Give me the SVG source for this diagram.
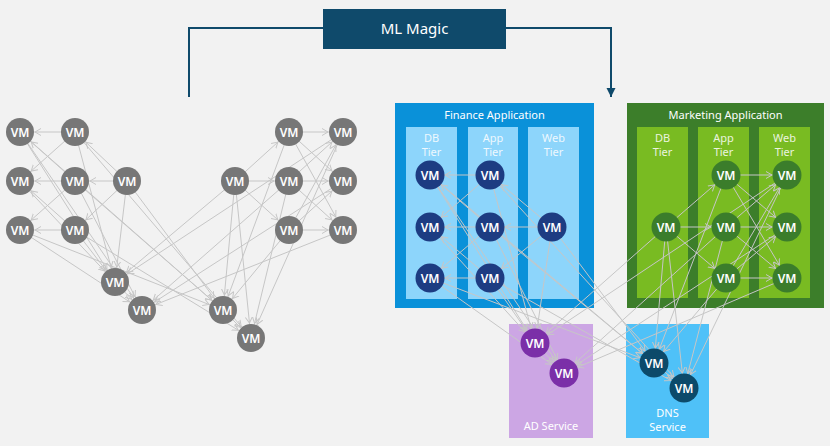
<svg xmlns="http://www.w3.org/2000/svg" width="830" height="446" viewBox="0 0 830 446">
<style>
text{font-family:"Noto Sans","Liberation Sans",sans-serif;text-anchor:middle}
.vm{fill:#fff;font-size:12px;font-weight:600}
.e line{stroke:#c6c6c6;stroke-width:1;fill:none;marker-end:url(#a)}
.g circle{fill:#777}
.fn circle{fill:#1d3c82}
.mk circle{fill:#3b7d2b}
.ad circle{fill:#7b2fa8}
.dn circle{fill:#0c4a6a}
.lbl{fill:#fff;font-size:11px}
.tier{fill:#fff;font-size:11px;opacity:.85}
</style>
<defs>
<marker id="a" markerUnits="userSpaceOnUse" markerWidth="22" markerHeight="10" viewBox="0 -5 22 10" refX="21" refY="0" orient="auto">
<path d="M0,-3.5 L6,0 L0,3.5" fill="none" stroke="#c6c6c6" stroke-width="1"/>
</marker>
<marker id="b" markerUnits="userSpaceOnUse" markerWidth="10" markerHeight="10" viewBox="0 -5 10 10" refX="9" refY="0" orient="auto">
<path d="M0,-4.5 L9,0 L0,4.5 Z" fill="#0f4a6b"/>
</marker>
</defs>
<rect width="830" height="446" fill="#f2f2f2"/>

<g id="ml-magic">
<rect x="323" y="9" width="183" height="40" fill="#0f4a6b"/>
<text x="414.5" y="34" fill="#fff" style="font-size:15px">ML Magic</text>
</g>

<g id="finance-app">
<rect x="395" y="103" width="199" height="205" fill="#0a91d9"/>
<text class="lbl" x="494.5" y="119">Finance Application</text>
<rect x="406" y="127" width="51" height="172" fill="#8dd5fb"/>
<rect x="468" y="127" width="50" height="172" fill="#8dd5fb"/>
<rect x="528" y="127" width="51" height="172" fill="#8dd5fb"/>
<text class="tier" x="431.5" y="142">DB</text><text class="tier" x="431.5" y="156">Tier</text>
<text class="tier" x="493" y="142">App</text><text class="tier" x="493" y="156">Tier</text>
<text class="tier" x="553.5" y="142">Web</text><text class="tier" x="553.5" y="156">Tier</text>
</g>
<g id="marketing-app">
<rect x="627" y="103" width="197" height="205" fill="#3c7e2a"/>
<text class="lbl" x="725.5" y="119">Marketing Application</text>
<rect x="637" y="127" width="51" height="171" fill="#79bb22"/>
<rect x="698" y="127" width="51" height="171" fill="#79bb22"/>
<rect x="759" y="127" width="51" height="171" fill="#79bb22"/>
<text class="tier" x="662.5" y="142">DB</text><text class="tier" x="662.5" y="156">Tier</text>
<text class="tier" x="723.5" y="142">App</text><text class="tier" x="723.5" y="156">Tier</text>
<text class="tier" x="784.5" y="142">Web</text><text class="tier" x="784.5" y="156">Tier</text>
</g>
<g id="ad-service">
<rect x="509" y="324" width="84" height="114" fill="#cca6e4"/>
<text class="lbl" x="551" y="430">AD Service</text>
</g>
<g id="dns-service">
<rect x="626" y="324" width="83" height="114" fill="#4fc1f8"/>
<text class="lbl" x="667.5" y="417">DNS</text>
<text class="lbl" x="667.5" y="431">Service</text>
</g>

<g id="connectors">
<g id="ml-flow" fill="none" stroke="#0f4a6b" stroke-width="2">
<polyline points="189,97 189,28 323,28"/>
<polyline points="506,28 611,28 611,97" marker-end="url(#b)"/>
</g>
<g class="e" id="grey-edges">
<line x1="75" y1="132" x2="20" y2="132"/>
<line x1="75" y1="132" x2="20" y2="181"/>
<line x1="75" y1="181" x2="20" y2="132"/>
<line x1="75" y1="181" x2="20" y2="181"/>
<line x1="75" y1="181" x2="20" y2="230"/>
<line x1="75" y1="230" x2="20" y2="181"/>
<line x1="75" y1="230" x2="20" y2="230"/>
<line x1="127" y1="181" x2="75" y2="132"/>
<line x1="127" y1="181" x2="75" y2="181"/>
<line x1="127" y1="181" x2="75" y2="230"/>
<line x1="235" y1="181" x2="289" y2="132"/>
<line x1="235" y1="181" x2="289" y2="181"/>
<line x1="235" y1="181" x2="289" y2="230"/>
<line x1="289" y1="132" x2="343" y2="132"/>
<line x1="289" y1="132" x2="343" y2="181"/>
<line x1="289" y1="132" x2="343" y2="230"/>
<line x1="289" y1="181" x2="343" y2="132"/>
<line x1="289" y1="181" x2="343" y2="181"/>
<line x1="289" y1="181" x2="343" y2="230"/>
<line x1="289" y1="230" x2="343" y2="132"/>
<line x1="289" y1="230" x2="343" y2="181"/>
<line x1="289" y1="230" x2="343" y2="230"/>
<line x1="115" y1="282" x2="142" y2="310"/>
<line x1="223" y1="310" x2="251" y2="338"/>
<line x1="20" y1="132" x2="115" y2="282"/>
<line x1="20" y1="132" x2="142" y2="310"/>
<line x1="20" y1="230" x2="142" y2="310"/>
<line x1="20" y1="181" x2="115" y2="282"/>
<line x1="75" y1="132" x2="115" y2="282"/>
<line x1="75" y1="181" x2="142" y2="310"/>
<line x1="75" y1="230" x2="115" y2="282"/>
<line x1="127" y1="181" x2="115" y2="282"/>
<line x1="127" y1="181" x2="223" y2="310"/>
<line x1="75" y1="132" x2="251" y2="338"/>
<line x1="75" y1="181" x2="223" y2="310"/>
<line x1="20" y1="230" x2="223" y2="310"/>
<line x1="235" y1="181" x2="223" y2="310"/>
<line x1="235" y1="181" x2="251" y2="338"/>
<line x1="289" y1="132" x2="223" y2="310"/>
<line x1="289" y1="181" x2="251" y2="338"/>
<line x1="289" y1="230" x2="223" y2="310"/>
<line x1="343" y1="132" x2="115" y2="282"/>
<line x1="343" y1="181" x2="142" y2="310"/>
<line x1="343" y1="230" x2="142" y2="310"/>
<line x1="235" y1="181" x2="115" y2="282"/>
<line x1="289" y1="181" x2="142" y2="310"/>
<line x1="343" y1="132" x2="251" y2="338"/>
<line x1="75" y1="230" x2="251" y2="338"/>
<line x1="20" y1="132" x2="223" y2="310"/>
</g>
<g class="e" id="app-edges">
<line x1="490" y1="175" x2="430" y2="175"/>
<line x1="490" y1="175" x2="430" y2="227"/>
<line x1="490" y1="227" x2="430" y2="175"/>
<line x1="490" y1="227" x2="430" y2="227"/>
<line x1="490" y1="227" x2="430" y2="278"/>
<line x1="490" y1="278" x2="430" y2="227"/>
<line x1="490" y1="278" x2="430" y2="278"/>
<line x1="552" y1="227" x2="490" y2="175"/>
<line x1="552" y1="227" x2="490" y2="227"/>
<line x1="552" y1="227" x2="490" y2="278"/>
<line x1="666" y1="227" x2="726" y2="175"/>
<line x1="666" y1="227" x2="726" y2="227"/>
<line x1="666" y1="227" x2="726" y2="278"/>
<line x1="726" y1="175" x2="787" y2="175"/>
<line x1="726" y1="175" x2="787" y2="227"/>
<line x1="726" y1="175" x2="787" y2="278"/>
<line x1="726" y1="227" x2="787" y2="175"/>
<line x1="726" y1="227" x2="787" y2="227"/>
<line x1="726" y1="227" x2="787" y2="278"/>
<line x1="726" y1="278" x2="787" y2="175"/>
<line x1="726" y1="278" x2="787" y2="227"/>
<line x1="726" y1="278" x2="787" y2="278"/>
<line x1="535" y1="343" x2="564" y2="373"/>
<line x1="654" y1="363" x2="684" y2="388"/>
<line x1="430" y1="175" x2="535" y2="343"/>
<line x1="430" y1="175" x2="564" y2="373"/>
<line x1="430" y1="278" x2="564" y2="373"/>
<line x1="430" y1="227" x2="535" y2="343"/>
<line x1="490" y1="175" x2="535" y2="343"/>
<line x1="490" y1="227" x2="564" y2="373"/>
<line x1="490" y1="278" x2="535" y2="343"/>
<line x1="552" y1="227" x2="535" y2="343"/>
<line x1="552" y1="227" x2="654" y2="363"/>
<line x1="490" y1="175" x2="684" y2="388"/>
<line x1="490" y1="227" x2="654" y2="363"/>
<line x1="430" y1="278" x2="654" y2="363"/>
<line x1="666" y1="227" x2="654" y2="363"/>
<line x1="666" y1="227" x2="684" y2="388"/>
<line x1="726" y1="175" x2="654" y2="363"/>
<line x1="726" y1="227" x2="684" y2="388"/>
<line x1="726" y1="278" x2="654" y2="363"/>
<line x1="787" y1="175" x2="535" y2="343"/>
<line x1="787" y1="227" x2="564" y2="373"/>
<line x1="787" y1="278" x2="564" y2="373"/>
<line x1="666" y1="227" x2="535" y2="343"/>
<line x1="726" y1="227" x2="564" y2="373"/>
<line x1="787" y1="175" x2="684" y2="388"/>
<line x1="490" y1="278" x2="684" y2="388"/>
<line x1="430" y1="175" x2="654" y2="363"/>
</g>
</g>

<g class="g">
<g id="g-db1"><circle cx="20" cy="132" r="14"/><text class="vm" x="20" y="136.5">VM</text></g>
<g id="g-db2"><circle cx="20" cy="181" r="14"/><text class="vm" x="20" y="185.5">VM</text></g>
<g id="g-db3"><circle cx="20" cy="230" r="14"/><text class="vm" x="20" y="234.5">VM</text></g>
<g id="g-app1"><circle cx="75" cy="132" r="14"/><text class="vm" x="75" y="136.5">VM</text></g>
<g id="g-app2"><circle cx="75" cy="181" r="14"/><text class="vm" x="75" y="185.5">VM</text></g>
<g id="g-app3"><circle cx="75" cy="230" r="14"/><text class="vm" x="75" y="234.5">VM</text></g>
<g id="g-web"><circle cx="127" cy="181" r="14"/><text class="vm" x="127" y="185.5">VM</text></g>
<g id="g-mdb"><circle cx="235" cy="181" r="14"/><text class="vm" x="235" y="185.5">VM</text></g>
<g id="g-mapp1"><circle cx="289" cy="132" r="14"/><text class="vm" x="289" y="136.5">VM</text></g>
<g id="g-mapp2"><circle cx="289" cy="181" r="14"/><text class="vm" x="289" y="185.5">VM</text></g>
<g id="g-mapp3"><circle cx="289" cy="230" r="14"/><text class="vm" x="289" y="234.5">VM</text></g>
<g id="g-mweb1"><circle cx="343" cy="132" r="14"/><text class="vm" x="343" y="136.5">VM</text></g>
<g id="g-mweb2"><circle cx="343" cy="181" r="14"/><text class="vm" x="343" y="185.5">VM</text></g>
<g id="g-mweb3"><circle cx="343" cy="230" r="14"/><text class="vm" x="343" y="234.5">VM</text></g>
<g id="g-ad1"><circle cx="115" cy="282" r="14"/><text class="vm" x="115" y="286.5">VM</text></g>
<g id="g-ad2"><circle cx="142" cy="310" r="14"/><text class="vm" x="142" y="314.5">VM</text></g>
<g id="g-dns1"><circle cx="223" cy="310" r="14"/><text class="vm" x="223" y="314.5">VM</text></g>
<g id="g-dns2"><circle cx="251" cy="338" r="14"/><text class="vm" x="251" y="342.5">VM</text></g>
</g>
<g class="fn">
<g id="f-db1"><circle cx="430" cy="175" r="14.5"/><text class="vm" x="430" y="179.5">VM</text></g>
<g id="f-db2"><circle cx="430" cy="227" r="14.5"/><text class="vm" x="430" y="231.5">VM</text></g>
<g id="f-db3"><circle cx="430" cy="278" r="14.5"/><text class="vm" x="430" y="282.5">VM</text></g>
<g id="f-app1"><circle cx="490" cy="175" r="14.5"/><text class="vm" x="490" y="179.5">VM</text></g>
<g id="f-app2"><circle cx="490" cy="227" r="14.5"/><text class="vm" x="490" y="231.5">VM</text></g>
<g id="f-app3"><circle cx="490" cy="278" r="14.5"/><text class="vm" x="490" y="282.5">VM</text></g>
<g id="f-web"><circle cx="552" cy="227" r="14.5"/><text class="vm" x="552" y="231.5">VM</text></g>
</g>
<g class="mk">
<g id="m-db"><circle cx="666" cy="227" r="14.5"/><text class="vm" x="666" y="231.5">VM</text></g>
<g id="m-app1"><circle cx="726" cy="175" r="14.5"/><text class="vm" x="726" y="179.5">VM</text></g>
<g id="m-app2"><circle cx="726" cy="227" r="14.5"/><text class="vm" x="726" y="231.5">VM</text></g>
<g id="m-app3"><circle cx="726" cy="278" r="14.5"/><text class="vm" x="726" y="282.5">VM</text></g>
<g id="m-web1"><circle cx="787" cy="175" r="14.5"/><text class="vm" x="787" y="179.5">VM</text></g>
<g id="m-web2"><circle cx="787" cy="227" r="14.5"/><text class="vm" x="787" y="231.5">VM</text></g>
<g id="m-web3"><circle cx="787" cy="278" r="14.5"/><text class="vm" x="787" y="282.5">VM</text></g>
</g>
<g class="ad">
<g id="ad-vm1"><circle cx="535" cy="343" r="14.5"/><text class="vm" x="535" y="347.5">VM</text></g>
<g id="ad-vm2"><circle cx="564" cy="373" r="14.5"/><text class="vm" x="564" y="377.5">VM</text></g>
</g>
<g class="dn">
<g id="dns-vm1"><circle cx="654" cy="363" r="14.5"/><text class="vm" x="654" y="367.5">VM</text></g>
<g id="dns-vm2"><circle cx="684" cy="388" r="14.5"/><text class="vm" x="684" y="392.5">VM</text></g>
</g>
</svg>
